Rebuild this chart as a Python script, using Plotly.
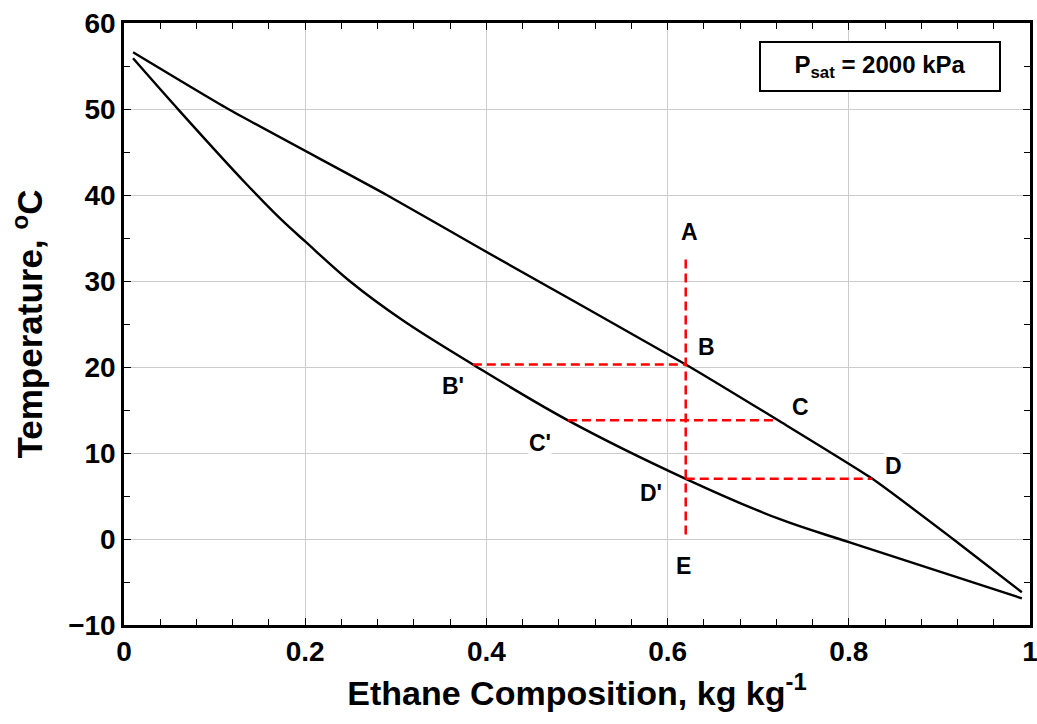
import plotly.graph_objects as go

# Dew-point (upper) curve
dew_x = [0.01, 0.115, 0.29, 0.393, 0.62, 0.722, 0.826, 0.915, 0.991]
dew_T = [56.6, 50.0, 40.0, 33.8, 20.3, 13.8, 7.0, 0.0, -6.2]

# Bubble-point (lower) curve
bub_x = [0.01, 0.062, 0.134, 0.174, 0.2, 0.249, 0.308, 0.385, 0.49, 0.62, 0.724, 0.801, 0.991]
bub_T = [55.9, 49.7, 41.4, 37.1, 34.6, 30.0, 25.4, 20.3, 13.8, 7.0, 2.3, -0.4, -6.9]

# Red dashed construction lines
vert_x = [0.62, 0.62]
vert_T = [32.5, 0.2]
h1_x = [0.385, 0.62]
h1_T = [20.3, 20.3]
h2_x = [0.49, 0.722]
h2_T = [13.8, 13.8]
h3_x = [0.62, 0.826]
h3_T = [7.0, 7.0]

# Point labels
lab_text = ["A", "B", "C", "D", "E", "B'", "C'", "D'"]
lab_x = [0.624, 0.643, 0.747, 0.849, 0.617, 0.363, 0.459, 0.582]
lab_T = [35.7, 22.3, 15.3, 8.5, -3.1, 17.8, 11.2, 5.3]

xticks = [0, 0.2, 0.4, 0.6, 0.8, 1]
xticklabels = ["0", "0.2", "0.4", "0.6", "0.8", "1"]
yticks = [-10, 0, 10, 20, 30, 40, 50, 60]

FONT = "Liberation Sans, Arial, sans-serif"

fig = go.Figure()
for xs, ys, sm in [(dew_x, dew_T, 0.5), (bub_x, bub_T, 1.0)]:
    fig.add_trace(go.Scatter(x=xs, y=ys, mode="lines",
                             line=dict(color="black", width=2.4, shape="spline", smoothing=sm),
                             showlegend=False, hoverinfo="skip"))
for xs, ys in [(vert_x, vert_T), (h1_x, h1_T), (h2_x, h2_T), (h3_x, h3_T)]:
    fig.add_trace(go.Scatter(x=xs, y=ys, mode="lines",
                             line=dict(color="#ff0000", width=2.5, dash="9px,5px"),
                             showlegend=False, hoverinfo="skip"))

for t, x, y in zip(lab_text, lab_x, lab_T):
    fig.add_annotation(x=x, y=y, text=t, showarrow=False, bgcolor="white",
                       borderpad=0,
                       font=dict(family=FONT, size=23, color="black", weight="bold"))

# Psat box
fig.add_annotation(xref="paper", yref="paper", x=0.834, y=0.927,
                   xanchor="center", yanchor="middle",
                   text="P<sub>sat</sub> = 2000 kPa", showarrow=False,
                   bgcolor="white", bordercolor="black", borderwidth=2,
                   width=236, height=45, align="center",
                   font=dict(family=FONT, size=24, color="black", weight="bold"))

axis_common = dict(
    showline=True, linecolor="black", linewidth=2.5, mirror="allticks",
    ticks="inside", ticklen=7, tickwidth=1.2, tickcolor="black",
    showgrid=True, gridcolor="#cccccc", gridwidth=1, zeroline=False,
    automargin=False, ticklabeloverflow="allow",
    tickfont=dict(family=FONT, size=28, color="black", weight="bold"),
)

fig.update_xaxes(range=[0, 1], tickvals=xticks, ticktext=xticklabels,
                 minor=dict(dtick=0.04, ticks="inside", ticklen=6, tickcolor="black", showgrid=False),
                 title=dict(text="Ethane Composition, kg kg<sup>-1</sup>",
                            font=dict(family=FONT, size=34, color="black", weight="bold")),
                 **axis_common)
fig.update_yaxes(range=[-10, 60], tickvals=yticks,
                 minor=dict(dtick=5, ticks="inside", ticklen=6, tickcolor="black", showgrid=False),
                 title=dict(text="Temperature, <sup>o</sup>C",
                            font=dict(family=FONT, size=35, color="black", weight="bold")),
                 **axis_common)

fig.update_layout(width=1037, height=724,
                  margin=dict(l=124, r=7, t=23, b=99),
                  plot_bgcolor="white", paper_bgcolor="white")

fig.write_html("out.html")
